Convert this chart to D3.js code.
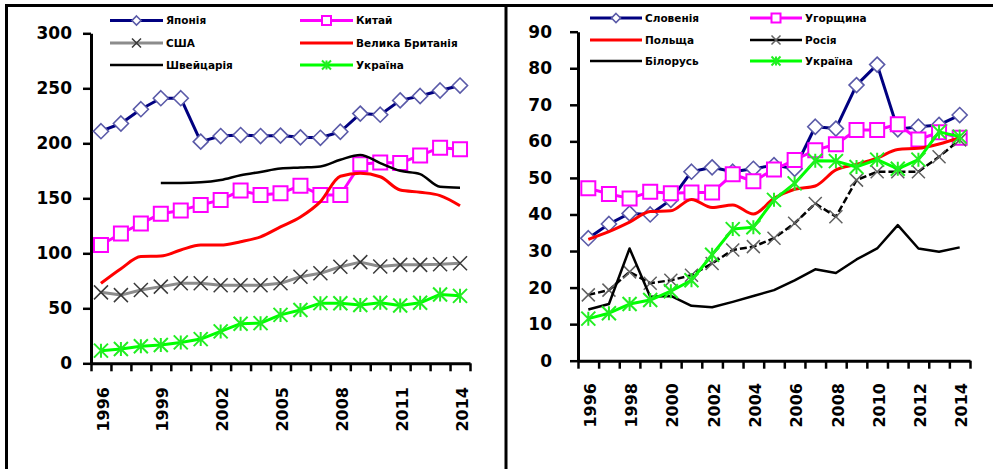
<!DOCTYPE html>
<html>
<head>
<meta charset="utf-8">
<script src="https://cdn.jsdelivr.net/npm/d3@7"></script>
<style>
  html, body { margin: 0; padding: 0; background: #fff; }
  svg { display: block; }
</style>
</head>
<body>
<svg id="chart" width="993" height="469"></svg>
<script>
// Years shown on both panels
const years = [1996, 1997, 1998, 1999, 2000, 2001, 2002, 2003, 2004, 2005,
               2006, 2007, 2008, 2009, 2010, 2011, 2012, 2013, 2014];

// Left panel series
const japan       = [211, 218, 231, 241, 241, 201.5, 206.6, 207.5, 206.6, 207, 205.4, 205, 210.5, 227, 226, 239, 243, 248, 252.5];
const china       = [107.5, 118, 127, 136, 139, 144, 148.5, 157, 153, 154.5, 161.5, 153, 153, 181, 182.5, 182, 189, 196, 194.5];
const usa         = [64.5, 62, 66.6, 69.7, 72.7, 72.7, 71, 71, 71, 72.7, 78.7, 81.8, 87.8, 92, 88, 89.5, 89.5, 90, 91];
const uk          = [72.7, 86, 97, 97.5, 103, 107.5, 107.5, 110.5, 115, 124, 133, 147, 170, 172.7, 169.6, 157.5, 155.5, 152.5, 143.3];
const switzerland = [null, null, null, 164, 164, 164.5, 166.6, 171, 174, 177, 178, 179, 185, 189.4, 182, 175, 172, 160.5, 159.6];
const ukraine     = [11.5, 13, 15.5, 16.6, 19, 22, 29, 36, 36.5, 44, 48.5, 54.7, 54.6, 53, 55, 52.5, 55, 62.6, 61.3];

// Right panel series
const slovenia = [33.5, 37.4, 40.3, 40, 44, 51.7, 52.9, 51.7, 52.5, 53.5, 52.5, 64, 63.5, 75.4, 81, 63.3, 64, 64.5, 67.2];
const hungary  = [47.2, 45.6, 44.4, 46.2, 45.8, 46, 46, 51, 49.1, 52.3, 54.9, 57.6, 59.2, 63.1, 63.1, 64.7, 60.5, 62.5, 61];
const poland   = [33.2, 35.3, 37.9, 40.8, 41, 44.1, 41.9, 42.6, 40.1, 44.4, 46.9, 47.8, 52.2, 53.7, 55.4, 57.8, 58.1, 59.3, 61];
const russia   = [18, 19.3, 24.3, 21.2, 22, 23.4, 26.6, 30.3, 31.2, 33.5, 37.6, 43, 39.4, 49.4, 51.7, 51.7, 51.7, 55.8, 60.4];
const belarus  = [14, 15.5, 30.7, 17.5, 17.7, 15, 14.6, 16.1, 17.7, 19.3, 22, 25, 24, 27.7, 30.7, 37.1, 30.7, 29.8, 31];

// Tick labels
const leftYTicks  = [0, 50, 100, 150, 200, 250, 300];
const rightYTicks = [0, 10, 20, 30, 40, 50, 60, 70, 80, 90];
const leftXLabels  = [1996, 1999, 2002, 2005, 2008, 2011, 2014];
const rightXLabels = [1996, 1998, 2000, 2002, 2004, 2006, 2008, 2010, 2012, 2014];

const svg = d3.select("#chart");
const FONT = "'DejaVu Sans', Arial, sans-serif";

// Outer frame and divider
svg.append("path")
  .attr("d", "M6.5,469 V5.5 H993 M506,5.5 V469")
  .attr("fill", "none").attr("stroke", "#000").attr("stroke-width", 3);

// Marker shapes
function markerPath(type, s) {
  const h = s / 2;
  switch (type) {
    case "diamond": return `M0,${-h} L${h},0 L0,${h} L${-h},0 Z`;
    case "square":  return `M${-h},${-h} H${h} V${h} H${-h} Z`;
    case "x":       return `M${-h},${-h} L${h},${h} M${-h},${h} L${h},${-h}`;
    case "star":    return `M${-h},${-h} L${h},${h} M${-h},${h} L${h},${-h} M0,${-h} V${h}`;
  }
  return "";
}

function drawMarker(g, m, x, y, size) {
  g.append("path")
    .attr("transform", `translate(${x},${y})`)
    .attr("d", markerPath(m.type, size))
    .attr("fill", m.fill || "none")
    .attr("stroke", m.stroke)
    .attr("stroke-width", m.width || 1.5);
}

function drawPanel(cfg) {
  const g = svg.append("g");
  const x = d3.scaleLinear().domain([0, years.length]).range([cfg.x0, cfg.x1]);
  const y = d3.scaleLinear().domain([0, cfg.max]).range([cfg.y0, cfg.y1]);
  const cx = i => x(i + 0.5);

  // Axes
  const xAxis = g.append("g")
    .attr("transform", `translate(0,${cfg.y0})`)
    .call(d3.axisBottom(x).tickValues(d3.range(years.length + 1)).tickFormat("").tickSize(8).tickSizeOuter(0));
  const yAxis = g.append("g")
    .attr("transform", `translate(${cfg.x0},0)`)
    .call(d3.axisLeft(y).tickValues(cfg.yTicks).tickSize(8).tickSizeOuter(0).tickPadding(cfg.yPad));
  [xAxis, yAxis].forEach(a => {
    a.select(".domain").attr("stroke", "#000").attr("stroke-width", 3);
    a.selectAll(".tick line").attr("stroke", "#000").attr("stroke-width", 2.5);
  });
  yAxis.selectAll(".tick text")
    .attr("font-family", FONT).attr("font-weight", "bold").attr("font-size", 17).attr("fill", "#000");

  // Rotated year labels
  g.selectAll(".xlab").data(cfg.xLabels).enter().append("text")
    .attr("transform", d => `translate(${cx(years.indexOf(d)) + 2},${cfg.xLabelTop}) rotate(-90)`)
    .attr("text-anchor", "end").attr("dy", "0.35em")
    .attr("font-family", FONT).attr("font-weight", "bold").attr("font-size", 16)
    .text(d => d);

  // Series
  cfg.series.forEach(s => {
    const line = d3.line()
      .defined(d => d != null)
      .x((d, i) => cx(i)).y(d => y(d))
      .curve(s.smooth ? d3.curveMonotoneX : d3.curveLinear);
    g.append("path")
      .attr("d", line(s.values))
      .attr("fill", "none")
      .attr("stroke", s.color)
      .attr("stroke-width", s.width)
      .attr("stroke-dasharray", s.dash || null)
      .attr("stroke-linejoin", "round");
    if (s.marker) {
      s.values.forEach((v, i) => { if (v != null) drawMarker(g, s.marker, cx(i), y(v), s.marker.size); });
    }
  });

  // Legend
  cfg.series.forEach((s, k) => {
    const col = k % 2, row = Math.floor(k / 2);
    const lx = cfg.legend.cols[col], ly = cfg.legend.rows[row];
    g.append("line")
      .attr("x1", lx).attr("x2", lx + cfg.legend.len).attr("y1", ly).attr("y2", ly)
      .attr("stroke", s.color).attr("stroke-width", s.width);
    if (s.marker) drawMarker(g, s.marker, lx + cfg.legend.len / 2, ly, 9);
    g.append("text")
      .attr("x", lx + cfg.legend.len + 3).attr("y", ly).attr("dy", "0.35em")
      .attr("font-family", FONT).attr("font-weight", "bold")
      .attr("font-size", 10.5).attr("fill", "#000")
      .text(s.name);
  });
}

const diamond = { type: "diamond", stroke: "#5a5aa8", fill: "#fff", width: 1.6, size: 15 };
const square  = { type: "square",  stroke: "#ff00ff", fill: "#fff", width: 2, size: 14 };
const cross   = { type: "x",       stroke: "#3a3a3a", width: 1.5, size: 14 };
const star    = { type: "star",    stroke: "#22ee22", width: 2, size: 14 };

drawPanel({
  x0: 91, x1: 470, y0: 363.3, y1: 33.3, max: 300,
  yTicks: leftYTicks, yPad: 11, xLabels: leftXLabels, xLabelTop: 387,
  legend: { cols: [110, 300], rows: [20.5, 43, 65], len: 53 },
  series: [
    { name: "Японія", values: japan, color: "#000080", width: 3, marker: diamond },
    { name: "Китай", values: china, color: "#ff00ff", width: 3, marker: square },
    { name: "США", values: usa, color: "#8c8c8c", width: 3, marker: cross },
    { name: "Велика Британія", values: uk, color: "#ff0000", width: 3, smooth: true },
    { name: "Швейцарія", values: switzerland, color: "#000", width: 2.5, smooth: true },
    { name: "Україна", values: ukraine, color: "#00ff00", width: 3, marker: star }
  ]
});

drawPanel({
  x0: 578, x1: 970, y0: 360.7, y1: 31.7, max: 90,
  yTicks: rightYTicks, yPad: 18, xLabels: rightXLabels, xLabelTop: 383,
  legend: { cols: [590, 750], rows: [18, 40, 61], len: 52 },
  series: [
    { name: "Словенія", values: slovenia, color: "#000080", width: 3, marker: diamond },
    { name: "Угорщина", values: hungary, color: "#ff00ff", width: 3, marker: square },
    { name: "Польща", values: poland, color: "#ff0000", width: 3, smooth: true },
    { name: "Росія", values: russia, color: "#000", width: 2.5, dash: "7,3", marker: { type: "x", stroke: "#606060", width: 1.5, size: 13 } },
    { name: "Білорусь", values: belarus, color: "#000", width: 2.5 },
    { name: "Україна", values: ukraine, color: "#00ff00", width: 3, marker: star }
  ]
});
</script>
</body>
</html>
